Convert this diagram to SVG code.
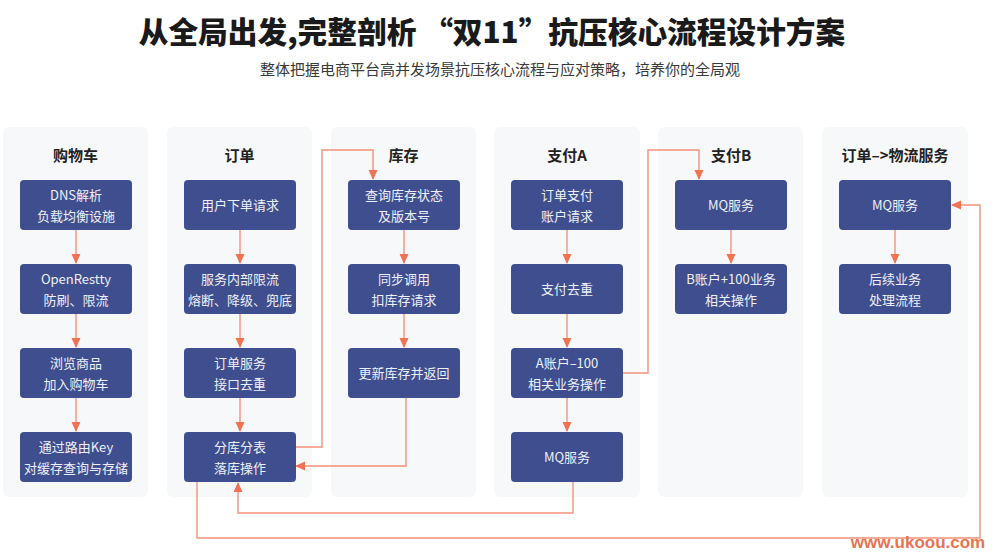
<svg xmlns="http://www.w3.org/2000/svg" width="1000" height="559" viewBox="0 0 1000 559">
<defs>
<style>
.panel{fill:#f7f8fa}
.node{fill:#3f4e8f}
.nt{fill:#eef0f7;font-family:"Noto Sans CJK SC","Noto Sans",sans-serif;font-size:13px;text-anchor:middle}
.hd{fill:#222;font-family:"Noto Sans CJK SC","Noto Sans",sans-serif;font-size:15px;font-weight:700;text-anchor:middle}
.ln{fill:none;stroke:#f5907a;stroke-width:1.4}
</style>
<marker id="ah" markerUnits="userSpaceOnUse" markerWidth="10" markerHeight="10" viewBox="0 0 10 10" refX="9" refY="5" orient="auto">
<path d="M0,0.5 L10,5 L0,9.5 Z" fill="#f27252"/>
</marker>
</defs>
<rect width="1000" height="559" fill="#ffffff"/>
<text x="492" y="43" fill="#1a1a1a" font-family="'Noto Sans CJK SC','Noto Sans',sans-serif" font-size="29.7" font-weight="900" text-anchor="middle">从全局出发,完整剖析 “双11”抗压核心流程设计方案</text>
<text x="500" y="75" fill="#3a3a3a" font-family="'Noto Sans CJK SC','Noto Sans',sans-serif" font-size="15" text-anchor="middle">整体把握电商平台高并发场景抗压核心流程与应对策略，培养你的全局观</text>

<g id="panels">
<rect class="panel" x="3" y="127" width="145" height="370" rx="6"/>
<rect class="panel" x="167" y="127" width="145" height="370" rx="6"/>
<rect class="panel" x="331" y="127" width="145" height="370" rx="6"/>
<rect class="panel" x="494" y="127" width="146" height="370" rx="6"/>
<rect class="panel" x="658" y="127" width="145" height="370" rx="6"/>
<rect class="panel" x="822" y="127" width="146" height="370" rx="6"/>
</g>
<g id="headers">
<text class="hd" x="75.5" y="161">购物车</text>
<text class="hd" x="239.5" y="161">订单</text>
<text class="hd" x="403.5" y="161">库存</text>
<text class="hd" x="567" y="161">支付A</text>
<text class="hd" x="731" y="161">支付B</text>
<text class="hd" x="895" y="161">订单–&gt;物流服务</text>
</g>

<g id="connectors">
<path class="ln" d="M76,230 V263" marker-end="url(#ah)"/>
<path class="ln" d="M76,314 V347" marker-end="url(#ah)"/>
<path class="ln" d="M76,398 V431" marker-end="url(#ah)"/>
<path class="ln" d="M240,230 V263" marker-end="url(#ah)"/>
<path class="ln" d="M240,314 V347" marker-end="url(#ah)"/>
<path class="ln" d="M240,398 V431" marker-end="url(#ah)"/>
<path class="ln" d="M404,230 V263" marker-end="url(#ah)"/>
<path class="ln" d="M404,314 V347" marker-end="url(#ah)"/>
<path class="ln" d="M567,230 V263" marker-end="url(#ah)"/>
<path class="ln" d="M567,314 V347" marker-end="url(#ah)"/>
<path class="ln" d="M567,398 V431" marker-end="url(#ah)"/>
<path class="ln" d="M731,230 V263" marker-end="url(#ah)"/>
<path class="ln" d="M895,230 V263" marker-end="url(#ah)"/>
<path class="ln" d="M295,447 H322 V150 H373 V179" marker-end="url(#ah)"/>
<path class="ln" d="M406,398 V466 H296" marker-end="url(#ah)"/>
<path class="ln" d="M623,373 H648 V150 H699 V179" marker-end="url(#ah)"/>
<path class="ln" d="M573,482 V513 H238 V483" marker-end="url(#ah)"/>
<path class="ln" d="M197,482 V538 H980 V205 H952" marker-end="url(#ah)"/>
</g>

<g id="n-c1-1"><rect class="node" x="20" y="180" width="112" height="50" rx="4"/><text class="nt" x="76" y="200">DNS解析</text><text class="nt" x="76" y="221">负载均衡设施</text></g>
<g id="n-c1-2"><rect class="node" x="20" y="264" width="112" height="50" rx="4"/><text class="nt" x="76" y="284">OpenRestty</text><text class="nt" x="76" y="305">防刷、限流</text></g>
<g id="n-c1-3"><rect class="node" x="20" y="348" width="112" height="50" rx="4"/><text class="nt" x="76" y="368">浏览商品</text><text class="nt" x="76" y="389">加入购物车</text></g>
<g id="n-c1-4"><rect class="node" x="20" y="432" width="112" height="50" rx="4"/><text class="nt" x="76" y="452">通过路由Key</text><text class="nt" x="76" y="473">对缓存查询与存储</text></g>

<g id="n-c2-1"><rect class="node" x="184" y="180" width="112" height="50" rx="4"/><text class="nt" x="240" y="210">用户下单请求</text></g>
<g id="n-c2-2"><rect class="node" x="184" y="264" width="112" height="50" rx="4"/><text class="nt" x="240" y="284">服务内部限流</text><text class="nt" x="240" y="305">熔断、降级、兜底</text></g>
<g id="n-c2-3"><rect class="node" x="184" y="348" width="112" height="50" rx="4"/><text class="nt" x="240" y="368">订单服务</text><text class="nt" x="240" y="389">接口去重</text></g>
<g id="n-c2-4"><rect class="node" x="184" y="432" width="112" height="50" rx="4"/><text class="nt" x="240" y="452">分库分表</text><text class="nt" x="240" y="473">落库操作</text></g>

<g id="n-c3-1"><rect class="node" x="348" y="180" width="112" height="50" rx="4"/><text class="nt" x="404" y="200">查询库存状态</text><text class="nt" x="404" y="221">及版本号</text></g>
<g id="n-c3-2"><rect class="node" x="348" y="264" width="112" height="50" rx="4"/><text class="nt" x="404" y="284">同步调用</text><text class="nt" x="404" y="305">扣库存请求</text></g>
<g id="n-c3-3"><rect class="node" x="348" y="348" width="112" height="50" rx="4"/><text class="nt" x="404" y="378">更新库存并返回</text></g>

<g id="n-c4-1"><rect class="node" x="511" y="180" width="112" height="50" rx="4"/><text class="nt" x="567" y="200">订单支付</text><text class="nt" x="567" y="221">账户请求</text></g>
<g id="n-c4-2"><rect class="node" x="511" y="264" width="112" height="50" rx="4"/><text class="nt" x="567" y="294">支付去重</text></g>
<g id="n-c4-3"><rect class="node" x="511" y="348" width="112" height="50" rx="4"/><text class="nt" x="567" y="368">A账户–100</text><text class="nt" x="567" y="389">相关业务操作</text></g>
<g id="n-c4-4"><rect class="node" x="511" y="432" width="112" height="50" rx="4"/><text class="nt" x="567" y="462">MQ服务</text></g>

<g id="n-c5-1"><rect class="node" x="675" y="180" width="112" height="50" rx="4"/><text class="nt" x="731" y="210">MQ服务</text></g>
<g id="n-c5-2"><rect class="node" x="675" y="264" width="112" height="50" rx="4"/><text class="nt" x="731" y="284">B账户+100业务</text><text class="nt" x="731" y="305">相关操作</text></g>

<g id="n-c6-1"><rect class="node" x="839" y="180" width="112" height="50" rx="4"/><text class="nt" x="895" y="210">MQ服务</text></g>
<g id="n-c6-2"><rect class="node" x="839" y="264" width="112" height="50" rx="4"/><text class="nt" x="895" y="284">后续业务</text><text class="nt" x="895" y="305">处理流程</text></g>

<text x="918" y="548" fill="#e8734f" font-family="'Liberation Sans',Arial,sans-serif" font-size="17" font-weight="700" text-anchor="middle">www.ukoou.com</text>
</svg>
